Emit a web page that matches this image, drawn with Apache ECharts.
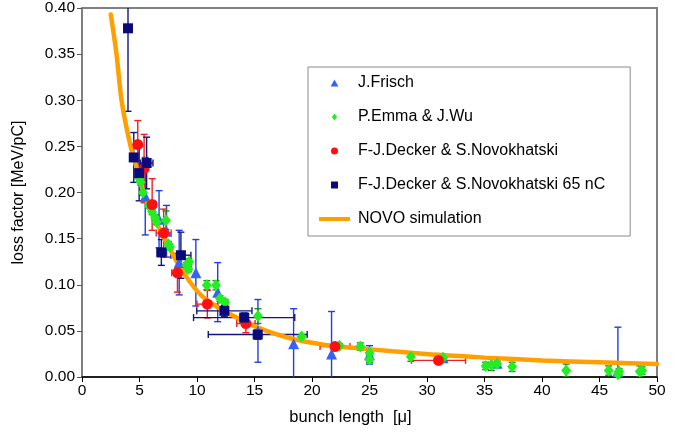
<!DOCTYPE html>
<html>
<head>
<meta charset="utf-8">
<title>Loss factor vs bunch length</title>
<script src="https://cdn.jsdelivr.net/npm/echarts@6/dist/echarts.min.js"></script>
<style>
  html, body { margin: 0; padding: 0; background: #fff; }
  #chart { width: 689px; height: 434px; }
</style>
</head>
<body>
<div id="chart"></div>
<script>
// ---- measurements: bunch length [μ], loss factor [MeV/pC], errors ----

// J.Frisch
const frischX   = [5.5, 6.7, 7.35, 8.45, 9.9, 11.8, 15.3, 18.4, 21.7, 25.0, 31.4, 36.1, 46.6];
const frischY   = [0.196, 0.171, 0.158, 0.124, 0.113, 0.092, 0.050, 0.036, 0.025, 0.024, 0.021, 0.015, 0.006];
const frischErr = [0.042, 0.031, 0.028, 0.035, 0.036, 0.032, 0.034, 0.038, 0.046, 0.010, 0.004, 0.004, 0.048];

// P.Emma & J.Wu
const emmaX   = [5.0, 5.1, 5.3, 5.8, 6.1, 6.35, 6.5, 7.3, 7.5, 7.65, 9.1, 9.3, 9.25, 10.85, 11.65, 12.0, 12.45,
                 15.3, 19.1, 22.4, 24.2, 25.0, 25.0, 28.6, 31.4, 35.1, 35.6, 36.1, 37.4, 42.1, 45.8, 46.6, 46.7, 48.5, 48.7];
const emmaY   = [0.215, 0.211, 0.200, 0.186, 0.179, 0.173, 0.168, 0.170, 0.144, 0.141, 0.121, 0.125, 0.117, 0.0995, 0.0995, 0.085, 0.081,
                 0.066, 0.044, 0.034, 0.033, 0.026, 0.019, 0.022, 0.021, 0.012, 0.013, 0.014, 0.011, 0.007, 0.007, 0.003, 0.006, 0.006, 0.007];
const emmaErr = [0.003, 0.003, 0.003, 0.003, 0.003, 0.003, 0.003, 0.010, 0.003, 0.003, 0.003, 0.003, 0.003, 0.005, 0.005, 0.003, 0.003,
                 0.008, 0.002, 0.002, 0.004, 0.003, 0.003, 0.005, 0.003, 0.004, 0.006, 0.003, 0.005, 0.007, 0.005, 0.003, 0.003, 0.006, 0.004];

// F-J.Decker & S.Novokhatski
const deckerX    = [4.85, 5.4, 6.1, 7.1, 8.3, 10.9, 14.25, 22.0, 31.0];
const deckerY    = [0.252, 0.226, 0.187, 0.156, 0.113, 0.079, 0.058, 0.033, 0.018];
const deckerErr  = [0.026, 0.037, 0.028, 0.026, 0.021, 0.015, 0.010, 0.003, 0.003];
const deckerXErr = [0, 0, 0.35, 0.65, 0.5, 0.9, 0.8, 1.3, 2.35];

// F-J.Decker & S.Novokhatski 65 nC
const decker65X    = [4.0, 4.5, 4.97, 5.62, 6.9, 8.6, 12.38, 14.1, 15.28];
const decker65Y    = [0.378, 0.238, 0.221, 0.232, 0.135, 0.132, 0.0717, 0.0644, 0.046];
const decker65Err  = [0.09, 0.027, 0.03, 0.028, 0.014, 0.025, 0.006, 0.005, 0.005];
const decker65XErr = [0, 0.3, 0.3, 0.55, 0.35, 0.87, 2.4, 4.4, 4.3];

// NOVO simulation curve
const novoX = [2.5, 3.0, 3.45, 4.17, 4.75, 5.6, 6.8, 8.2, 9.4, 10.5, 12.3, 15.2, 18.1, 21.0, 23.3, 27.0, 31.0, 35.0, 40.0, 45.0, 50.0];
const novoY = [0.393, 0.35, 0.299, 0.253, 0.227, 0.191, 0.159, 0.126, 0.103, 0.087, 0.072, 0.054, 0.042, 0.035, 0.032, 0.028, 0.024, 0.021, 0.018, 0.016, 0.014];

// axis ticks
const xTicks = { min: 0, max: 50, step: 5 };
const yTicks = { min: 0, max: 0.40, step: 0.05 };

const FONT = "'Liberation Sans', Arial, Helvetica, sans-serif";

const names = {
  frisch: 'J.Frisch',
  emma: 'P.Emma & J.Wu',
  decker: 'F-J.Decker & S.Novokhatski',
  decker65: 'F-J.Decker & S.Novokhatski 65 nC',
  novo: 'NOVO simulation'
};

const colors = {
  frisch: '#3563f5', frischBar: '#1f3fe6',
  emma: '#22ee22', emmaBar: '#1f8a1f',
  decker: '#ff1010', deckerBar: '#ee2020',
  decker65: '#0a0a7a', decker65Bar: '#141480',
  novo: '#ffa000'
};

// Legend glyphs as paths so they keep their proportions inside the icon box
const legendIcons = {
  triangle: 'path://M5,0L10,9H0Z',
  diamond: 'path://M3,0L6,4L3,8L0,4Z',
  circle: 'path://M0,5A5,5,0,1,1,10,5A5,5,0,1,1,0,5Z',
  square: 'path://M0,0H10V10H0Z',
  line: 'path://M0,0H31V4H0Z'
};

function zip(xs, ys, es, xes) {
  return xs.map((x, i) => [x, ys[i], es ? es[i] : 0, xes ? xes[i] : 0]);
}

// Error bars: vertical bar with caps, optional horizontal bar with caps
function errorBarRenderer(color) {
  return function (params, api) {
    const x = api.value(0), y = api.value(1), ey = api.value(2), ex = api.value(3);
    const cap = 3.5;
    const children = [];
    const style = { stroke: color, lineWidth: 1.4, fill: null };
    if (ey > 0) {
      const top = api.coord([x, y + ey]);
      const bot = api.coord([x, y - ey]);
      children.push({ type: 'line', shape: { x1: top[0], y1: top[1], x2: bot[0], y2: bot[1] }, style });
      children.push({ type: 'line', shape: { x1: top[0] - cap, y1: top[1], x2: top[0] + cap, y2: top[1] }, style });
      children.push({ type: 'line', shape: { x1: bot[0] - cap, y1: bot[1], x2: bot[0] + cap, y2: bot[1] }, style });
    }
    if (ex > 0) {
      const l = api.coord([x - ex, y]);
      const r = api.coord([x + ex, y]);
      children.push({ type: 'line', shape: { x1: l[0], y1: l[1], x2: r[0], y2: r[1] }, style });
      children.push({ type: 'line', shape: { x1: l[0], y1: l[1] - cap, x2: l[0], y2: l[1] + cap }, style });
      children.push({ type: 'line', shape: { x1: r[0], y1: r[1] - cap, x2: r[0], y2: r[1] + cap }, style });
    }
    return { type: 'group', children };
  };
}

function barSeries(id, data, color) {
  return {
    id: id + '-bars',
    type: 'custom',
    renderItem: errorBarRenderer(color),
    data: data,
    clip: true,
    silent: true,
    z: 2,
    encode: { x: 0, y: 1 }
  };
}

const frischData = zip(frischX, frischY, frischErr);
const emmaData = zip(emmaX, emmaY, emmaErr);
const deckerData = zip(deckerX, deckerY, deckerErr, deckerXErr);
const decker65Data = zip(decker65X, decker65Y, decker65Err, decker65XErr);
const novoData = novoX.map((x, i) => [x, novoY[i]]);

const chart = echarts.init(document.getElementById('chart'), null, { renderer: 'canvas' });

chart.setOption({
  animation: false,
  backgroundColor: '#ffffff',
  textStyle: { fontFamily: FONT },
  grid: {
    left: 82, right: 32, top: 7, bottom: 57,
    show: true, borderColor: '#808080', borderWidth: 2, backgroundColor: 'transparent'
  },
  xAxis: {
    type: 'value',
    min: xTicks.min, max: xTicks.max, interval: xTicks.step,
    name: 'bunch length  [μ]',
    nameLocation: 'middle',
    nameGap: 32,
    nameTextStyle: { fontSize: 16.5, color: '#000', fontFamily: FONT, padding: [0, 38, 0, 0] },
    axisLine: { show: true, onZero: false, lineStyle: { color: '#000', width: 1.5 } },
    axisTick: { show: true, inside: false, length: 5, lineStyle: { color: '#000', width: 1 } },
    axisLabel: { fontSize: 15.5, color: '#000', margin: 6, fontFamily: FONT },
    splitLine: { show: false }
  },
  yAxis: {
    type: 'value',
    min: yTicks.min, max: yTicks.max, interval: yTicks.step,
    name: 'loss factor [MeV/pC]',
    nameLocation: 'middle',
    nameGap: 55,
    nameTextStyle: { fontSize: 16, color: '#000', fontFamily: FONT },
    axisLine: { show: true, onZero: false, lineStyle: { color: '#808080', width: 2 } },
    axisTick: { show: true, inside: false, length: 5, lineStyle: { color: '#555', width: 1 } },
    axisLabel: { fontSize: 15.5, color: '#000', margin: 7, fontFamily: FONT,
                 formatter: v => v.toFixed(2) },
    splitLine: { show: false }
  },
  legend: {
    orient: 'vertical',
    left: 308, top: 67,
    padding: [8, 25, 9, 11],
    itemGap: 18,
    itemWidth: 31,
    itemHeight: 7,
    symbolKeepAspect: true,
    backgroundColor: '#ffffff',
    borderColor: '#8a8a8a',
    borderWidth: 1,
    borderRadius: 0,
    selectedMode: false,
    itemStyle: { opacity: 1 },
    textStyle: { fontSize: 16, color: '#000', fontFamily: FONT, lineHeight: 16, padding: [0, 0, 0, 3] },
    data: [
      { name: names.frisch, icon: legendIcons.triangle },
      { name: names.emma, icon: legendIcons.diamond },
      { name: names.decker, icon: legendIcons.circle },
      { name: names.decker65, icon: legendIcons.square },
      { name: names.novo, icon: legendIcons.line }
    ]
  },
  series: [
    barSeries('frisch', frischData, colors.frischBar),
    barSeries('emma', emmaData, colors.emmaBar),
    barSeries('decker', deckerData, colors.deckerBar),
    barSeries('decker65', decker65Data, colors.decker65Bar),
    {
      name: names.novo,
      type: 'line',
      data: novoData,
      smooth: 0.35,
      showSymbol: false,
      symbol: 'none',
      lineStyle: { color: colors.novo, width: 4.5, cap: 'round' },
      itemStyle: { color: colors.novo },
      z: 3,
      silent: true
    },
    {
      name: names.frisch,
      type: 'scatter',
      data: frischData.map(d => [d[0], d[1]]),
      symbol: 'triangle',
      symbolSize: [11, 11],
      itemStyle: { color: colors.frisch, opacity: 1 },
      z: 4
    },
    {
      name: names.emma,
      type: 'scatter',
      data: emmaData.map(d => [d[0], d[1]]),
      symbol: 'diamond',
      symbolSize: [10, 12],
      itemStyle: { color: colors.emma, opacity: 1 },
      z: 5
    },
    {
      name: names.decker,
      type: 'scatter',
      data: deckerData.map(d => [d[0], d[1]]),
      symbol: 'circle',
      symbolSize: 11,
      itemStyle: { color: colors.decker, opacity: 1 },
      z: 6
    },
    {
      name: names.decker65,
      type: 'scatter',
      data: decker65Data.map(d => [d[0], d[1]]),
      symbol: 'rect',
      symbolSize: 10,
      itemStyle: { color: colors.decker65, opacity: 1 },
      z: 7
    }
  ]
});
</script>
</body>
</html>
